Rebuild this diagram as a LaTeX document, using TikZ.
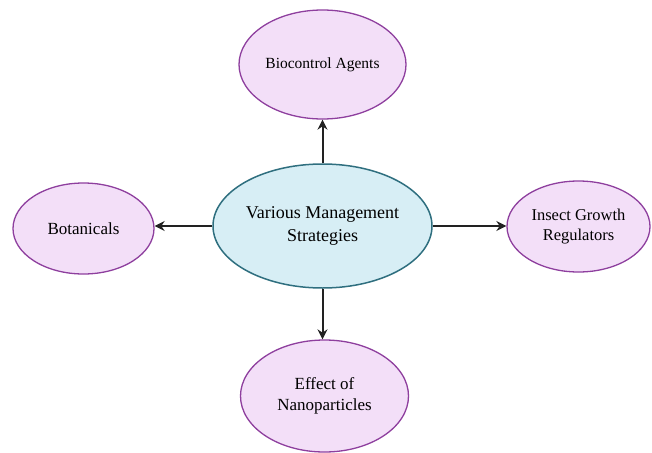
\documentclass[tikz,border=0pt]{standalone}
\usepackage{fontspec}
\setmainfont{Liberation Serif}
\usetikzlibrary{shapes.geometric,arrows.meta}
\definecolor{pfill}{HTML}{F3DFF8}
\definecolor{pdraw}{HTML}{8E3F9E}
\definecolor{cfill}{HTML}{D7EEF5}
\definecolor{cdraw}{HTML}{2F6F7F}
\definecolor{arrc}{HTML}{222222}
\tikzset{
  leaf/.style={ellipse, draw=pdraw, fill=pfill, line width=1.3pt, inner sep=0pt, align=center, text=black},
  hub/.style={ellipse, draw=cdraw, fill=cfill, line width=1.5pt, inner sep=0pt, align=center, text=black,
    font=\fontsize{18}{22.5}\selectfont},
  arr/.style={draw=arrc, line width=2pt, -{Stealth[length=10pt,width=10pt]}}
}
\begin{document}
\begin{tikzpicture}[x=1pt,y=-1pt]
\useasboundingbox (0,0) rectangle (652,452);
\node[hub, minimum width=219pt, minimum height=124pt] (c) at (322.5,226) {Various Management\\Strategies};
\node[leaf, minimum width=167pt, minimum height=109pt, font=\fontsize{15.5}{19}\selectfont] (t) at (322.5,64.5) {Biocontrol Agents};
\node[leaf, minimum width=141pt, minimum height=91pt, font=\fontsize{17}{20}\selectfont] (l) at (83.5,228.5) {Botanicals};
\node[leaf, minimum width=143pt, minimum height=91pt, font=\fontsize{16.5}{20}\selectfont] (r) at (578.5,226.5) {Insect Growth\\Regulators};
\node[leaf, minimum width=168pt, minimum height=112pt, font=\fontsize{17}{20.5}\selectfont] (b) at (324.5,396) {Effect of\\Nanoparticles};
\draw[arr] (c.north) -- (c.north |- t.south);
\draw[arr] (c.west) -- (c.west -| l.east);
\draw[arr] (c.east) -- (c.east -| r.west);
\draw[arr] (c.south) -- (c.south |- b.north);
\end{tikzpicture}
\end{document}
